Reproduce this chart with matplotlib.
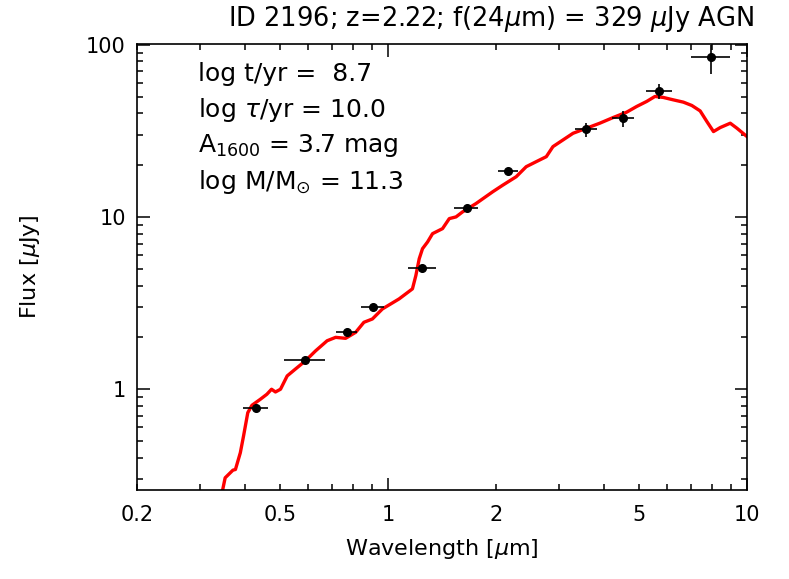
import numpy as np
import matplotlib
matplotlib.use("Agg")
import matplotlib.pyplot as plt
from matplotlib.ticker import FixedLocator, FixedFormatter

plt.rcParams['font.family'] = ['DejaVu Sans']
plt.rcParams['mathtext.fontset'] = 'dejavusans'

# photometry (wavelength in um, flux in uJy)
lam = [0.429, 0.589, 0.769, 0.909, 1.243, 1.656, 2.162, 3.571, 4.52, 5.69, 7.95]
lam_lo = [0.394, 0.512, 0.717, 0.843, 1.14, 1.531, 2.022, 3.31, 4.20, 5.23, 6.99]
lam_hi = [0.463, 0.669, 0.821, 0.977, 1.36, 1.778, 2.30, 3.82, 4.86, 6.17, 8.94]
flux = [0.778, 1.48, 2.15, 2.99, 5.09, 11.35, 18.56, 32.4, 37.4, 54.0, 84.6]
flux_lo = [0.74, 1.44, 2.10, 2.93, 4.95, 11.0, 18.1, 29.3, 33.5, 48.6, 67.5]
flux_hi = [0.82, 1.52, 2.20, 3.05, 5.25, 11.7, 19.0, 35.2, 41.0, 59.0, 100.2]

# best-fit model spectrum
mod_lam = [0.345, 0.352, 0.370, 0.376, 0.388, 0.396, 0.407, 0.418, 0.441, 0.460,
           0.474, 0.486, 0.502, 0.524, 0.552, 0.589, 0.629, 0.677, 0.715, 0.762,
           0.813, 0.857, 0.905, 0.965, 1.074, 1.170, 1.196, 1.222, 1.248, 1.289,
           1.331, 1.419, 1.482, 1.547, 1.614, 1.759, 1.958, 2.088, 2.276, 2.427,
           2.588, 2.761, 2.881, 3.071, 3.277, 3.571, 3.890, 4.239, 4.621, 4.928,
           5.254, 5.543, 5.846, 6.233, 6.650, 7.020, 7.404, 7.730, 8.066, 8.422,
           8.982, 9.377, 10.0]
mod_flux = [0.25, 0.306, 0.339, 0.342, 0.428, 0.534, 0.731, 0.807, 0.874, 0.935,
            1.0, 0.964, 1.0, 1.195, 1.308, 1.462, 1.672, 1.912, 2.001, 1.975,
            2.140, 2.447, 2.558, 2.925, 3.345, 3.826, 4.574, 5.722, 6.545, 7.159,
            8.004, 8.559, 9.788, 10.01, 10.71, 11.97, 14.01, 15.30, 17.13, 19.59,
            20.95, 22.40, 25.62, 27.99, 30.62, 32.75, 35.03, 37.80, 40.59, 43.81,
            46.85, 50.11, 49.44, 47.87, 46.42, 44.40, 41.30, 35.84, 31.33, 33.05,
            35.03, 32.75, 29.30]

params = ["log t/yr =  8.7", r"log $\tau$/yr = 10.0", r"A$_{1600}$ = 3.7 mag",
          r"log M/M$_{\odot}$ = 11.3"]

fig = plt.figure(figsize=(7.89, 5.79), dpi=100)
ax = fig.add_axes([137/789, 1-490/579, 610/789, 446/579])

ax.plot(mod_lam, mod_flux, color='red', lw=2.4, zorder=2)
lam = np.array(lam); flux = np.array(flux)
xerr = [lam - np.array(lam_lo), np.array(lam_hi) - lam]
yerr = [flux - np.array(flux_lo), np.array(flux_hi) - flux]
ax.errorbar(lam, flux, xerr=xerr, yerr=yerr, fmt='o', color='black', ms=5.5,
            elinewidth=1.2, capsize=0, zorder=3)

ax.set_xscale('log')
ax.set_yscale('log')
ax.set_xlim(0.2, 10)
ax.set_ylim(0.26, 101)

ax.xaxis.set_major_locator(FixedLocator([1, 10]))
ax.xaxis.set_major_formatter(FixedFormatter(['1', '10']))
xminor = [0.2, 0.3, 0.4, 0.5, 0.6, 0.7, 0.8, 0.9, 2, 3, 4, 5, 6, 7, 8, 9]
ax.xaxis.set_minor_locator(FixedLocator(xminor))
ax.xaxis.set_minor_formatter(FixedFormatter(
    ['0.2', '', '', '0.5', '', '', '', '', '2', '', '', '5', '', '', '', '']))
ax.yaxis.set_major_locator(FixedLocator([1, 10, 100]))
ax.yaxis.set_major_formatter(FixedFormatter(['1', '10', '100']))
yminor = [0.3, 0.4, 0.5, 0.6, 0.7, 0.8, 0.9, 2, 3, 4, 5, 6, 7, 8, 9,
          20, 30, 40, 50, 60, 70, 80, 90]
ax.yaxis.set_minor_locator(FixedLocator(yminor))
ax.yaxis.set_minor_formatter(FixedFormatter([''] * len(yminor)))

ax.tick_params(which='both', direction='in', top=True, right=True,
               labelsize=15, width=1.1, colors='black')
ax.tick_params(axis='x', which='both', pad=11)
ax.tick_params(axis='y', which='both', pad=8)
ax.tick_params(which='major', length=9)
ax.tick_params(which='minor', length=4.5)
for s in ax.spines.values():
    s.set_linewidth(1.2)

ax.set_xlabel(r"Wavelength [$\mu$m]", fontsize=16)
ax.set_ylabel(r"Flux [$\mu$Jy]", fontsize=16)
ax.xaxis.set_label_coords(0.5, -0.105)
ax.yaxis.set_label_coords(-0.155, 0.5)

for i, t in enumerate(params):
    fig.text(198/789, 1 - (74 + 36 * i) / 579, t, fontsize=18, va='center')

fig.text(491/789, 1 - 19/579, r"ID 2196; z=2.22; f(24$\mu$m) = 329 $\mu$Jy AGN",
         fontsize=18.5, ha='center', va='center')

fig.savefig('out.png', dpi=100)
